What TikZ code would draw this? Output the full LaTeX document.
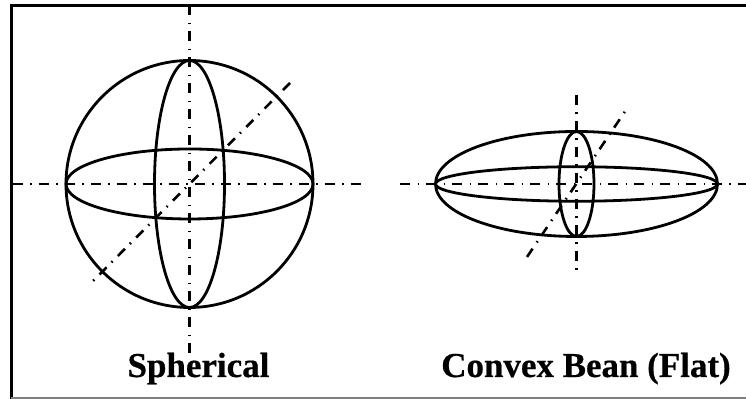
\documentclass[tikz,border=0pt]{standalone}
\usepackage{fontspec}
\setmainfont[BoldFeatures={FakeBold=0.5}]{Liberation Serif}
\tikzset{
  outline/.style={line width=0.056cm},
  axisline/.style={line width=0.052cm, dash pattern=on 0.2cm off 0.15cm on 0.03cm off 0.14cm},
  caption/.style={anchor=base, font=\fontsize{19.9pt}{24pt}\selectfont\bfseries}
}
\begin{document}
\begin{tikzpicture}
  \useasboundingbox (0,0) rectangle (14.92,7.98);
  % Frame
  \draw[line width=0.07cm] (14.92,7.87) -- (0.23,7.87) -- (0.23,0);
  \draw[line width=0.035cm, gray] (0.23,0.02) -- (14.92,0.02);
  % Spherical
  \draw[axisline] (3.79,7.87) -- (3.79,0.88);
  \draw[axisline] (0.26,4.30) -- (7.22,4.30);
  \draw[axisline] (5.80,6.32) -- (1.80,2.30);
  \draw[outline] (3.79,4.30) circle (2.47);
  \draw[outline] (3.79,4.30) ellipse (2.47 and 0.70);
  \draw[outline] (3.79,4.30) ellipse (0.70 and 2.47);
  \node[caption] (sphericalcap) at (3.97,0.44) {Spherical};
  % Convex bean
  \draw[axisline] (11.53,6.08) -- (11.53,2.52);
  \draw[axisline] (8.00,4.30) -- (14.92,4.30);
  \draw[axisline] (10.54,2.84) -- (12.52,5.78);
  \draw[outline] (11.53,4.30) ellipse (2.82 and 1.05);
  \draw[outline] (11.53,4.30) ellipse (2.82 and 0.345);
  \draw[outline] (11.53,4.30) ellipse (0.35 and 1.05);
  \node[caption] (beancap) at (11.72,0.44) {Convex Bean (Flat)};
\end{tikzpicture}
\end{document}
